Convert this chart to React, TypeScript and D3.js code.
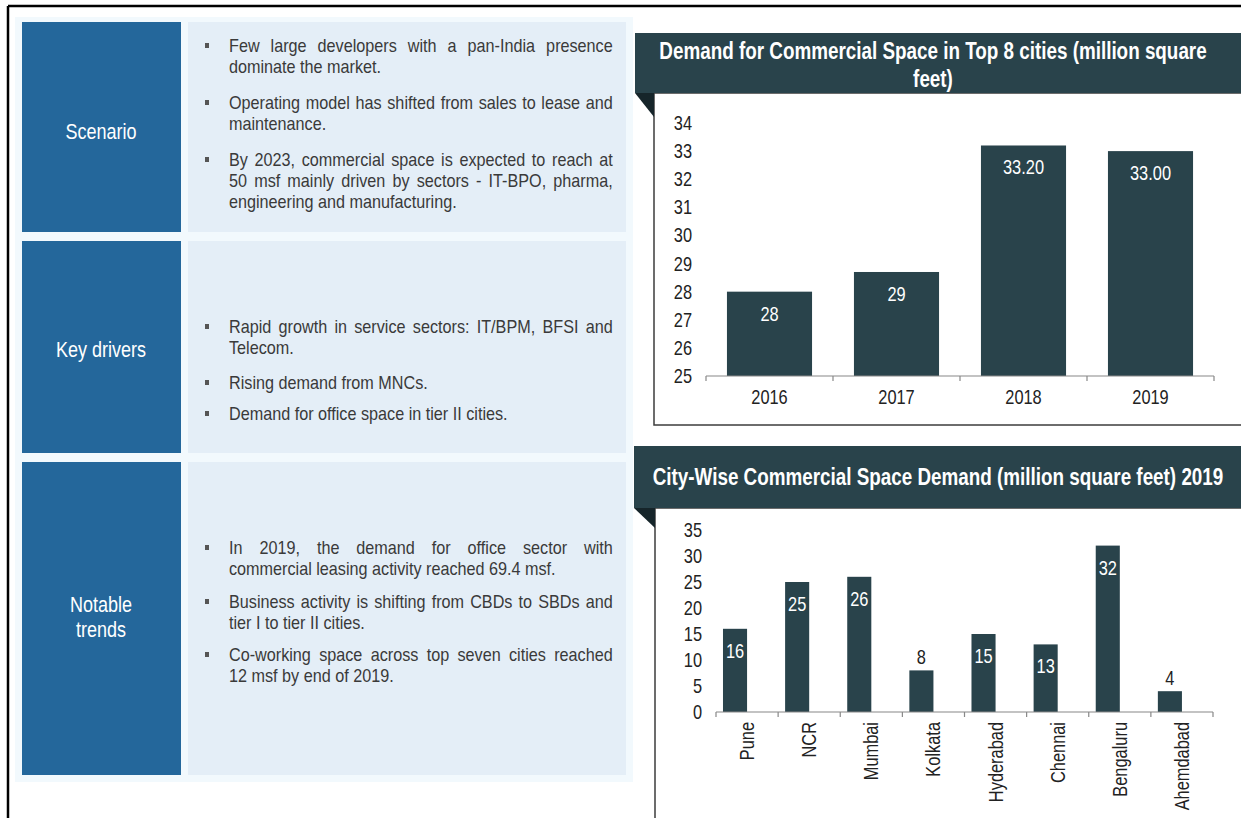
import React from 'react';
import * as d3 from 'd3';

// ---------- data ----------
const years = ['2016', '2017', '2018', '2019'];
const demandValues = [28, 28.7, 33.2, 33.0];
const demandLabels = ['28', '29', '33.20', '33.00'];
const demandTicks = [25, 26, 27, 28, 29, 30, 31, 32, 33, 34];

const cities = ['Pune', 'NCR', 'Mumbai', 'Kolkata', 'Hyderabad', 'Chennai', 'Bengaluru', 'Ahemdabad'];
const cityValues = [16, 25, 26, 8, 15, 13, 32, 4];
const cityTicks = [0, 5, 10, 15, 20, 25, 30, 35];

const topTitle = ['Demand for Commercial Space in Top 8 cities (million square', 'feet)'];
const bottomTitle = 'City-Wise Commercial Space Demand (million square feet) 2019';

const rowLabels = [['Scenario'], ['Key drivers'], ['Notable', 'trends']];
const scenarioBullets = [
  ['Few large developers with a pan-India presence', 'dominate the market.'],
  ['Operating model has shifted from sales to lease and', 'maintenance.'],
  ['By 2023, commercial space is expected to reach at', '50 msf mainly driven by sectors - IT-BPO, pharma,', 'engineering and manufacturing.'],
];
const driverBullets = [
  ['Rapid growth in service sectors: IT/BPM, BFSI and', 'Telecom.'],
  ['Rising demand from MNCs.'],
  ['Demand for office space in tier II cities.'],
];
const trendBullets = [
  ['In 2019, the demand for office sector with', 'commercial leasing activity reached 69.4 msf.'],
  ['Business activity is shifting from CBDs to SBDs and', 'tier I to tier II cities.'],
  ['Co-working space across top seven cities reached', '12 msf by end of 2019.'],
];

// ---------- styling ----------
const FONT = "'Liberation Sans', Arial, sans-serif";
const BLUE = '#24679b';
const PANEL = '#e4eef7';
const DARK = '#29434b';
const FOLD = '#16252a';
const TEXT = '#3a3a3a';

const rows = [
  { top: 22, bottom: 232, labelY: [131], lines: [46, 67, 103, 124, 160, 181, 202], bullets: scenarioBullets },
  { top: 241, bottom: 453, labelY: [349], lines: [327, 348, 383, 414], bullets: driverBullets },
  { top: 462, bottom: 775, labelY: [604, 629], lines: [548, 569, 602, 623, 655, 676], bullets: trendBullets },
];

const TEXT_X = 229;
const TEXT_W = 384;

let ctx: CanvasRenderingContext2D | null = null;
function measure(text: string, size: number, weight: string) {
  if (!ctx) ctx = document.createElement('canvas').getContext('2d');
  if (!ctx) return text.length * size * 0.5;
  ctx.font = `${weight} ${size}px 'Liberation Sans', Arial, sans-serif`;
  return ctx.measureText(text).width;
}

type TProps = {
  x: number;
  y: number;
  size: number;
  sx?: number;
  anchor?: 'start' | 'middle' | 'end';
  weight?: string;
  fill?: string;
  rotate?: number;
  justify?: number;
  children: string | number;
};

function T({ x, y, size, sx = 0.82, anchor = 'start', weight = 'normal', fill = '#222', rotate, justify, children }: TProps) {
  const tr = `translate(${x},${y})${rotate ? ` rotate(${rotate})` : ''} scale(${sx},1)`;
  let wordSpacing: number | undefined;
  if (justify) {
    const s = String(children);
    const gaps = (s.match(/ /g) || []).length;
    const natural = measure(s, size, weight);
    if (gaps > 0) wordSpacing = (justify / sx - natural) / gaps;
  }
  return (
    <text
      transform={tr}
      dy="0.35em"
      textAnchor={anchor}
      fontSize={size}
      fontWeight={weight}
      fill={fill}
      fontFamily={FONT}
      style={wordSpacing !== undefined ? { wordSpacing: `${wordSpacing}px` } : undefined}
    >
      {children}
    </text>
  );
}

function Panel({ row }: { row: typeof rows[number] }) {
  let li = 0;
  const items: React.ReactNode[] = [];
  row.bullets.forEach((b, bi) => {
    b.forEach((line, j) => {
      const y = row.lines[li++];
      const last = j === b.length - 1;
      if (j === 0) {
        items.push(<rect key={`b${bi}`} x={205} y={y - 3} width={4} height={5} fill="#555" />);
      }
      items.push(
        <T key={`t${bi}-${j}`} x={TEXT_X} y={y} size={18} sx={0.9} fill={TEXT} justify={last ? undefined : TEXT_W}>
          {line}
        </T>
      );
    });
  });
  return <g>{items}</g>;
}

export default function App() {
  // top chart scales
  const xTop = d3.scaleBand<string>().domain(years).range([706, 1214]).paddingInner(0.33).paddingOuter(0.165);
  const yTop = d3.scaleLinear().domain([25, 34]).range([376, 123]);
  const topBounds = d3.range(years.length + 1).map((i) => 706 + i * xTop.step());

  // bottom chart scales (clustered layout: value bar + empty slot)
  const xCity = d3.scaleBand<string>().domain(cities).range([716, 1213]);
  const xSeries = d3
    .scaleBand<string>()
    .domain(['value', 'blank'])
    .range([0, xCity.bandwidth()])
    .paddingInner(0)
    .paddingOuter(0.29);
  const yCity = d3.scaleLinear().domain([0, 35]).range([712, 530]);
  const cityBounds = d3.range(cities.length + 1).map((i) => 716 + i * xCity.step());

  return (
    <svg width={1241} height={818} style={{ position: 'absolute', left: 0, top: 0, background: '#fff' }}>
      <rect x={0} y={0} width={1241} height={818} fill="#fff" />
      {/* outer frame */}
      <line x1={8} y1={6} x2={1241} y2={6} stroke="#000" strokeWidth={2.5} />
      <line x1={8} y1={6} x2={8} y2={818} stroke="#000" strokeWidth={2.5} />

      {/* left section */}
      <rect x={15} y={17} width={618} height={765} fill="#f2f9fd" />
      {rows.map((r, i) => (
        <g key={i}>
          <rect x={22} y={r.top} width={159} height={r.bottom - r.top} fill={BLUE} />
          <rect x={188} y={r.top} width={438} height={r.bottom - r.top} fill={PANEL} />
          {rowLabels[i].map((t, k) => (
            <T key={k} x={101} y={r.labelY[k]} anchor="middle" size={22} fill="#fff">
              {t}
            </T>
          ))}
          <Panel row={r} />
        </g>
      ))}

      {/* ---------- top chart ---------- */}
      <rect x={654} y={93} width={600} height={332} fill="#fff" stroke="#3c3c3c" strokeWidth={1.5} />
      <rect x={635} y={33} width={606} height={60} fill={DARK} />
      <polygon points="635,93 654,93 654,117" fill={FOLD} />
      {topTitle.map((t, i) => (
        <T key={i} x={933} y={51 + i * 28} anchor="middle" size={23} weight="bold" fill="#fff">
          {t}
        </T>
      ))}
      {demandTicks.map((t) => (
        <T key={t} x={692} y={yTop(t)} anchor="end" size={20}>
          {t}
        </T>
      ))}
      {years.map((yr, i) => (
        <g key={yr}>
          <rect
            x={xTop(yr)!}
            y={yTop(demandValues[i])}
            width={xTop.bandwidth()}
            height={yTop(25) - yTop(demandValues[i])}
            fill={DARK}
          />
          <T x={xTop(yr)! + xTop.bandwidth() / 2} y={yTop(demandValues[i]) + 22} anchor="middle" size={20} fill="#fff">
            {demandLabels[i]}
          </T>
          <T x={xTop(yr)! + xTop.bandwidth() / 2} y={397} anchor="middle" size={20}>
            {yr}
          </T>
        </g>
      ))}
      <line x1={706} y1={yTop(25)} x2={1214} y2={yTop(25)} stroke="#888" strokeWidth={1.2} />
      {topBounds.map((b, i) => (
        <line key={i} x1={b} y1={yTop(25)} x2={b} y2={yTop(25) + 5} stroke="#888" strokeWidth={1.2} />
      ))}

      {/* ---------- bottom chart ---------- */}
      <rect x={655} y={508} width={600} height={330} fill="#fff" stroke="#3c3c3c" strokeWidth={1.5} />
      <rect x={634} y={446} width={607} height={62} fill={DARK} />
      <polygon points="634,508 655,508 655,528" fill={FOLD} />
      <T x={938} y={477} anchor="middle" size={23} weight="bold" fill="#fff">
        {bottomTitle}
      </T>
      {cityTicks.map((t) => (
        <T key={t} x={702} y={yCity(t)} anchor="end" size={20}>
          {t}
        </T>
      ))}
      {cities.map((c, i) => {
        const bx = xCity(c)! + xSeries('value')!;
        const bw = xSeries.bandwidth();
        const v = cityValues[i];
        const inside = v >= 10;
        const cx = xCity(c)! + xCity.bandwidth() / 2;
        return (
          <g key={c}>
            <rect x={bx} y={yCity(v)} width={bw} height={yCity(0) - yCity(v)} fill={DARK} />
            <T
              x={bx + bw / 2}
              y={inside ? yCity(v) + 22 : yCity(v) - 13}
              anchor="middle"
              size={20}
              fill={inside ? '#fff' : '#222'}
            >
              {v}
            </T>
            <T x={cx} y={yCity(0) + 10} rotate={-90} anchor="end" size={20}>
              {c}
            </T>
          </g>
        );
      })}
      <line x1={716} y1={yCity(0)} x2={1213} y2={yCity(0)} stroke="#888" strokeWidth={1.2} />
      {cityBounds.map((b, i) => (
        <line key={i} x1={b} y1={yCity(0)} x2={b} y2={yCity(0) + 5} stroke="#888" strokeWidth={1.2} />
      ))}
    </svg>
  );
}
